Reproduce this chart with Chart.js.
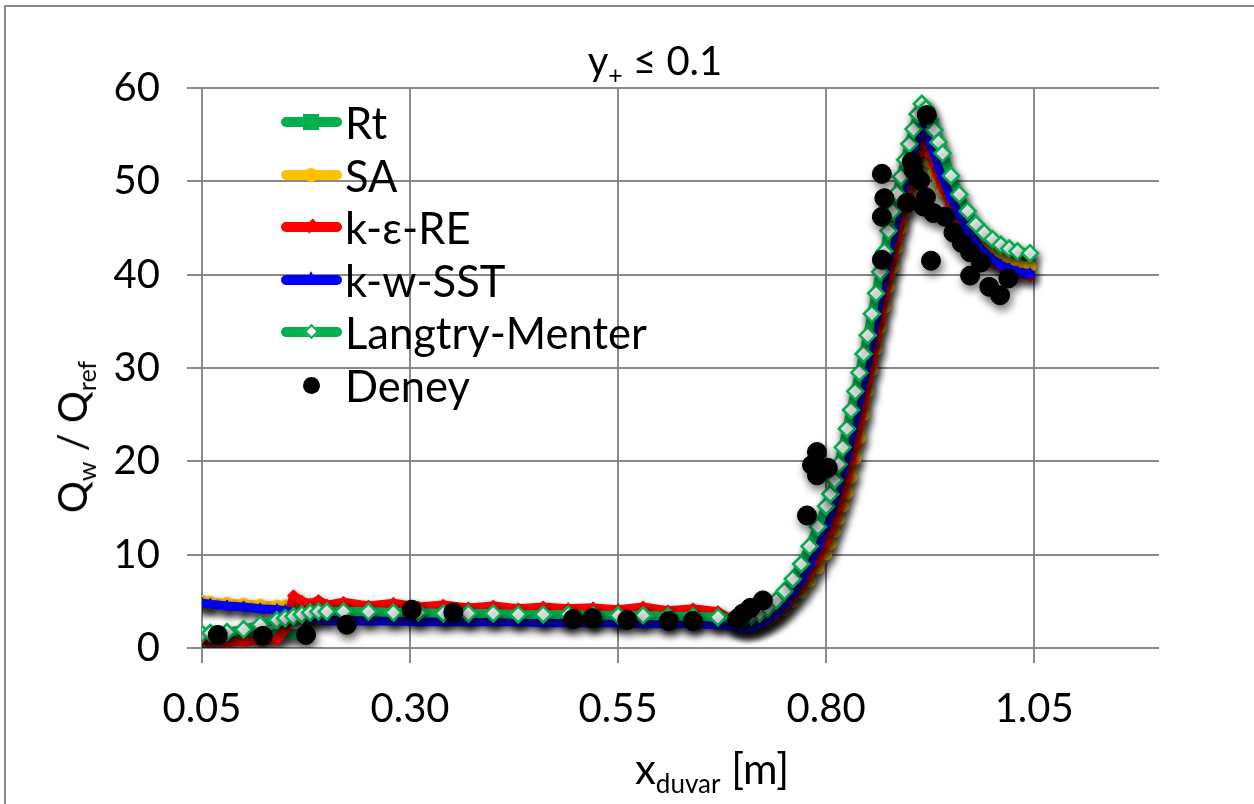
<!DOCTYPE html>
<html>
<head>
<meta charset="utf-8">
<script src="https://cdn.jsdelivr.net/npm/chart.js@4.4.1/dist/chart.umd.min.js"></script>
<style>
    body { margin: 0; background: #fff; }
    #wrap { position: relative; width: 1254px; height: 804px; overflow: hidden; font-family: Lato, "Open Sans", sans-serif; color: #000; }
    #frame { position: absolute; left: 4px; top: 5px; width: 1300px; height: 900px; border: 2px solid #8a8a8a; box-sizing: border-box; }
    #chart { position: absolute; left: 0; top: 0; }
    sub { font-size: 62%; vertical-align: baseline; position: relative; top: 0.35em; }
    #title { position: absolute; left: 480px; top: 40px; width: 350px; text-align: center; font-size: 40px; line-height: 1; }
    #xTitle { position: absolute; left: 712px; top: 768px; transform: translate(-50%, -50%); font-size: 42px; line-height: 1; white-space: nowrap; }
    #yTitle { position: absolute; left: 72px; top: 437px; transform: translate(-50%, -50%) rotate(-90deg); font-size: 40px; line-height: 1; white-space: nowrap; }
    #legend { position: absolute; left: 281px; top: 96px; }
    .row { position: relative; height: 52.6px; }
    .sample { position: absolute; left: 0; top: 21px; width: 61px; height: 10px; border-radius: 5px; }
    .mark { position: absolute; box-sizing: border-box; }
    .label { position: absolute; left: 64px; top: 0; font-size: 43.5px; line-height: 52px; white-space: nowrap; }
</style>
</head>
<body>
<div id="wrap">
    <div id="frame"></div>
    <canvas id="chart" width="1254" height="804"></canvas>
    <div id="title">y<sub>+</sub> ≤ 0.1</div>
    <div id="yTitle">Q<sub>w</sub> / Q<sub>ref</sub></div>
    <div id="xTitle">x<sub>duvar</sub> [m]</div>
    <div id="legend"></div>
</div>
<script>
'use strict';

// wall positions shared by the five simulations [m]
const xSim = [ 0.05, 0.06, 0.08, 0.10, 0.12, 0.14, 0.15, 0.16, 0.17, 0.18, 0.19, 0.20,
    0.22, 0.25, 0.28, 0.31, 0.34, 0.37, 0.40,
    0.43, 0.46, 0.49, 0.52, 0.55, 0.58, 0.61, 0.64, 0.67,
    0.69, 0.70, 0.71, 0.72, 0.73, 0.74, 0.75, 0.76, 0.77, 0.78, 0.79,
    0.80, 0.805, 0.81, 0.815, 0.82, 0.825, 0.83, 0.835, 0.84, 0.845, 0.85, 0.855, 0.86, 0.865, 0.87,
    0.875, 0.88, 0.885, 0.89, 0.895, 0.90, 0.905, 0.91, 0.915, 0.92, 0.925, 0.93, 0.935, 0.94,
    0.95, 0.96, 0.97, 0.98, 0.99, 1.00, 1.01, 1.02, 1.03, 1.045 ];

const rtValues = [ 1.6, 1.5, 1.5, 1.4, 1.4, 1.5, 1.5, 1.5, 1.6, 2.8, 3.7, 3.8,
    3.8, 3.8, 3.7, 3.7, 3.7, 3.6, 3.6,
    3.6, 3.5, 3.5, 3.5, 3.4, 3.4, 3.4, 3.3, 3.2,
    3.0, 2.9, 3.0, 3.3, 3.8, 4.5, 5.5, 6.7, 8.2, 9.9, 11.9,
    14.2, 15.6, 17.0, 18.6, 20.2, 22.0, 23.8, 25.8, 27.8, 29.9, 32.0, 34.2, 36.4, 38.6, 40.8,
    42.9, 45.0, 46.9, 48.8, 50.6, 52.4, 54.1, 55.8, 57.0, 56.6, 55.4, 54.3, 53.0, 51.8,
    49.5, 47.6, 46.0, 44.7, 43.8, 43.1, 42.6, 42.2, 41.9, 41.7 ];

const saValues = [ 5.0, 4.9, 4.8, 4.7, 4.6, 4.5, 4.5, 4.4, 4.3, 4.2, 4.1, 4.0,
    3.9, 3.8, 3.8, 3.7, 3.7, 3.6, 3.6,
    3.5, 3.5, 3.5, 3.4, 3.4, 3.3, 3.3, 3.2, 3.1,
    2.6, 2.3, 2.3, 2.5, 2.9, 3.4, 4.1, 5.0, 6.0, 7.2, 8.6,
    10.1, 11.2, 12.5, 13.8, 15.2, 16.6, 18.3, 20.3, 22.5, 25.0, 27.5, 29.8, 32.0, 34.3, 36.5,
    38.7, 40.8, 42.9, 45.0, 46.8, 48.5, 50.3, 52.0, 53.5, 53.2, 52.1, 51.0, 50.0, 49.0,
    47.2, 45.8, 44.5, 43.5, 42.8, 42.2, 41.8, 41.4, 41.1, 40.9 ];

const keValues = [ 0.8, 0.7, 0.6, 0.7, 0.8, 0.9, 2.0, 5.6, 5.0, 4.7, 5.1, 4.6,
    4.9, 4.5, 4.8, 4.4, 4.6, 4.3, 4.5,
    4.2, 4.4, 4.2, 4.3, 4.1, 4.4, 4.0, 4.2, 3.9,
    2.8, 2.3, 2.3, 2.6, 3.0, 3.6, 4.4, 5.4, 6.6, 8.0, 9.6,
    11.4, 12.6, 13.8, 15.2, 16.6, 18.2, 20.0, 22.0, 24.0, 26.2, 28.5, 30.7, 33.0, 35.2, 37.5,
    39.7, 41.8, 43.8, 45.8, 47.6, 49.3, 51.0, 52.8, 54.2, 54.0, 52.9, 51.8, 50.6, 49.5,
    47.4, 45.6, 44.0, 42.8, 42.0, 41.3, 40.8, 40.4, 40.1, 39.9 ];

const kwValues = [ 4.8, 4.7, 4.5, 4.4, 4.2, 4.1, 4.0, 3.8, 3.4, 3.1, 3.0, 2.9,
    2.9, 2.9, 2.9, 2.8, 2.8, 2.8, 2.8,
    2.8, 2.7, 2.7, 2.7, 2.7, 2.6, 2.6, 2.6, 2.5,
    2.3, 2.1, 2.2, 2.6, 3.1, 3.8, 4.7, 5.9, 7.3, 9.0, 11.0,
    13.2, 14.5, 15.9, 17.4, 19.0, 20.8, 22.7, 24.7, 26.7, 28.8, 31.0, 33.2, 35.5, 37.8, 40.0,
    42.1, 44.1, 46.1, 48.0, 49.8, 51.5, 53.2, 54.8, 55.9, 55.5, 54.2, 53.0, 51.7, 50.5,
    48.3, 46.4, 44.8, 43.4, 42.4, 41.6, 41.0, 40.6, 40.3, 40.1 ];

const lmValues = [ 1.5, 1.6, 1.7, 2.0, 2.5, 3.0, 3.2, 3.4, 3.6, 3.8, 3.9, 3.9,
    3.9, 3.9, 3.8, 3.8, 3.7, 3.7, 3.7,
    3.6, 3.6, 3.6, 3.5, 3.5, 3.5, 3.4, 3.4, 3.3,
    3.2, 3.2, 3.4, 3.7, 4.3, 5.1, 6.1, 7.4, 9.0, 10.9, 13.0,
    15.2, 16.5, 18.0, 19.7, 21.5, 23.5, 25.5, 27.5, 29.5, 31.5, 33.5, 35.8, 38.0, 40.3, 42.5,
    44.7, 46.8, 48.7, 50.5, 52.3, 54.0, 55.6, 57.2, 58.3, 57.8, 56.6, 55.5, 54.2, 53.0,
    50.6, 48.6, 46.8, 45.4, 44.5, 43.8, 43.2, 42.8, 42.5, 42.3 ];

// experiment (Deney)
const xDeney = [ 0.069, 0.123, 0.175, 0.224, 0.302, 0.352, 0.496, 0.519, 0.561, 0.611, 0.640, 0.693,
    0.700, 0.709, 0.724, 0.777, 0.783, 0.789, 0.789, 0.802,
    0.867, 0.870, 0.867, 0.867, 0.897, 0.903, 0.905, 0.913, 0.920, 0.917, 0.921,
    0.926, 0.929, 0.943, 0.953, 0.963, 0.973, 0.973, 0.986, 0.996, 1.009, 1.019 ];
const yDeney = [ 1.4, 1.3, 1.4, 2.5, 4.1, 3.8, 3.1, 3.2, 3.0, 2.9, 2.9, 3.1,
    3.7, 4.3, 5.1, 14.2, 19.6, 21.0, 18.5, 19.3,
    50.8, 48.2, 46.2, 41.6, 47.7, 52.1, 51.2, 50.1, 48.3, 47.3, 57.1,
    41.5, 46.6, 46.2, 44.5, 43.4, 42.4, 39.9, 41.3, 38.7, 37.8, 39.6 ];

const xTicks = [ 0.05, 0.30, 0.55, 0.80, 1.05 ];

const colors = {
    green: '#00b050',
    orange: '#ffc000',
    red: '#ff0000',
    blue: '#0000ff',
    black: '#000000',
    grid: '#8a8a8a'
};

function toPoints ( xs, ys )
{
    return xs.map( ( x, i ) => ( { x: x, y: ys[ i ] } ) );
}

function simSeries ( label, values, color, style, order )
{
    return {
        label: label,
        data: toPoints( xSim, values ),
        showLine: true,
        borderColor: color,
        borderWidth: 9,
        borderCapStyle: 'round',
        borderJoinStyle: 'round',
        backgroundColor: color,
        pointStyle: style,
        pointRadius: 6,
        pointBorderWidth: 1,
        pointBorderColor: color,
        pointBackgroundColor: color,
        order: order
    };
}

const datasets = [
    simSeries( 'Rt', rtValues, colors.green, 'rect', 5 ),
    simSeries( 'SA', saValues, colors.orange, 'circle', 4 ),
    simSeries( 'k-ε-RE', keValues, colors.red, 'rectRot', 3 ),
    simSeries( 'k-w-SST', kwValues, colors.blue, 'triangle', 2 ),
    Object.assign( simSeries( 'Langtry-Menter', lmValues, colors.green, 'rectRot', 1 ), {
        pointRadius: 8,
        pointBorderWidth: 2.5,
        pointBackgroundColor: '#ffffff'
    } ),
    {
        label: 'Deney',
        data: toPoints( xDeney, yDeney ),
        showLine: false,
        pointStyle: 'circle',
        pointRadius: 9.5,
        pointBackgroundColor: colors.black,
        pointBorderColor: colors.black,
        order: 0
    }
];

// soft drop shadow under every series, like the office chart effect
const shadowPlugin = {
    id: 'seriesShadow',
    beforeDatasetDraw ( chart )
    {
        const ctx = chart.ctx;
        ctx.save();
        ctx.shadowColor = 'rgba(0,0,0,0.55)';
        ctx.shadowBlur = 8;
        ctx.shadowOffsetX = 2;
        ctx.shadowOffsetY = 5;
    },
    afterDatasetDraw ( chart )
    {
        chart.ctx.restore();
    }
};

const tickFont = { family: 'Lato', size: 40 };

new Chart( document.getElementById( 'chart' ), {
    type: 'scatter',
    data: { datasets },
    options: {
        responsive: false,
        animation: false,
        layout: { padding: { top: 88, right: 95, left: 0, bottom: 0 } },
        plugins: {
            legend: { display: false },
            tooltip: { enabled: false }
        },
        scales: {
            x: {
                type: 'linear',
                min: 0.05,
                max: 1.20,
                afterBuildTicks: axis => { axis.ticks = xTicks.map( v => ( { value: v } ) ); },
                afterFit: axis => { axis.height = 156; },
                grid: { color: colors.grid, lineWidth: 2, tickLength: 15, tickColor: colors.grid },
                border: { display: false },
                ticks: {
                    font: tickFont,
                    color: '#000',
                    padding: 22,
                    maxRotation: 0,
                    callback: v => Number( v ).toFixed( 2 )
                }
            },
            y: {
                min: 0,
                max: 60,
                afterFit: axis => { axis.width = 202; },
                grid: { color: colors.grid, lineWidth: 2, tickLength: 15, tickColor: colors.grid },
                border: { display: false },
                ticks: { stepSize: 10, font: tickFont, color: '#000', padding: 27 }
            }
        }
    },
    plugins: [ shadowPlugin ]
} );

// legend drawn as html so the text stays plain text
const legendMarks = {
    'Rt': 'left:22px;top:18px;width:16px;height:16px;background:' + colors.green + ';',
    'SA': 'left:23px;top:19px;width:14px;height:14px;border-radius:50%;background:' + colors.orange + ';',
    'k-ε-RE': 'left:25px;top:20px;width:10px;height:10px;transform:rotate(45deg) scale(0.8,1.3);background:' + colors.red + ';',
    'k-w-SST': 'left:23px;top:17px;width:0;height:0;border-left:7px solid transparent;border-right:7px solid transparent;border-bottom:14px solid ' + colors.blue + ';',
    'Langtry-Menter': 'left:25px;top:20px;width:11px;height:11px;transform:rotate(45deg);background:#fff;border:2px solid ' + colors.green + ';',
    'Deney': 'left:22px;top:18px;width:17px;height:17px;border-radius:50%;background:#000;'
};

const legendBox = document.getElementById( 'legend' );
datasets.forEach( ds =>
{
    const row = document.createElement( 'div' );
    row.className = 'row';
    if ( ds.showLine )
    {
        const line = document.createElement( 'div' );
        line.className = 'sample';
        line.style.background = ds.borderColor;
        row.appendChild( line );
    }
    const mark = document.createElement( 'div' );
    mark.className = 'mark';
    mark.style.cssText = legendMarks[ ds.label ];
    row.appendChild( mark );
    const text = document.createElement( 'div' );
    text.className = 'label';
    text.textContent = ds.label;
    row.appendChild( text );
    legendBox.appendChild( row );
} );
</script>
</body>
</html>
